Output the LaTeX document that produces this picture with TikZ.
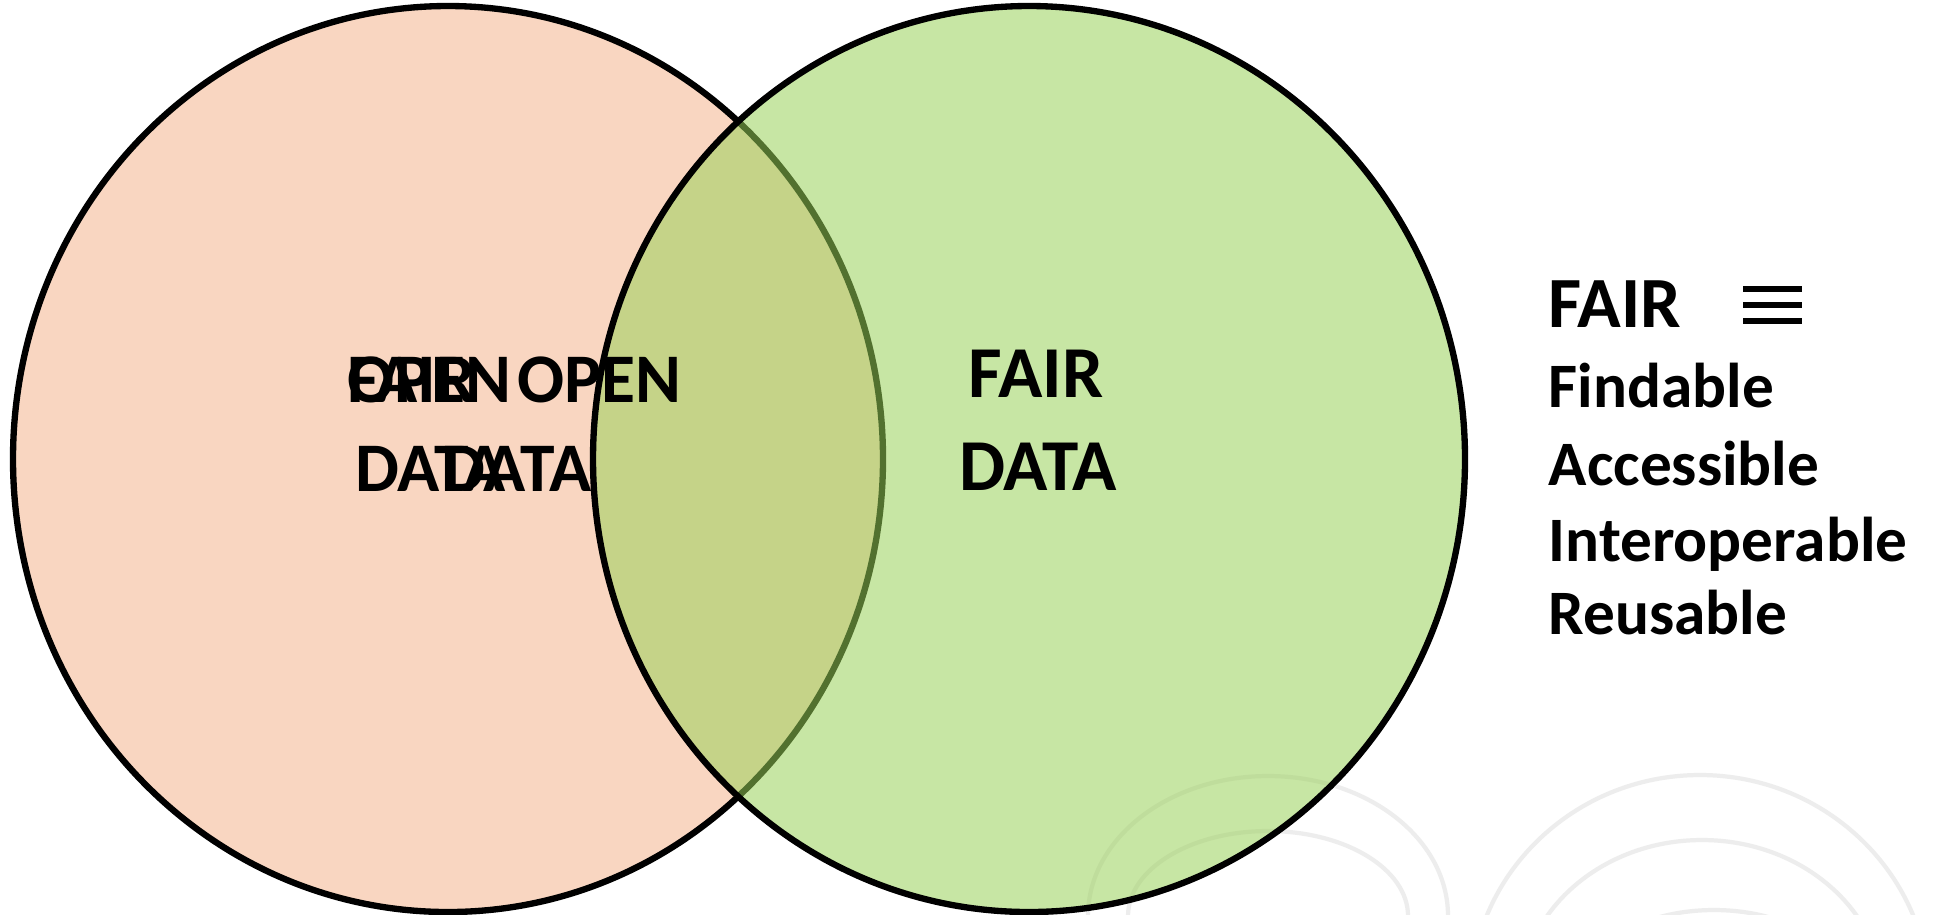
\documentclass[tikz,border=0pt]{standalone}
\usepackage{fontspec}
\setmainfont{Carlito}

\definecolor{peach}{RGB}{249,214,193}
\definecolor{leaf}{RGB}{153,209,88}

\begin{document}
\begin{tikzpicture}[x=0.01cm,y=-0.01cm]
\tikzstyle{ring}=[line width=1.8pt]
\tikzstyle{swirl}=[black!7, line width=1.2pt]
\tikzstyle{word}=[inner sep=0pt, anchor=base west, font=\fontsize{19.8}{24}\selectfont\bfseries]
\tikzstyle{label}=[inner sep=0pt, anchor=base, font=\fontsize{20.8}{25}\selectfont\bfseries]
\tikzstyle{item}=[inner sep=0pt, anchor=base west, font=\fontsize{18}{22}\selectfont\bfseries]
\useasboundingbox (0,0) rectangle (1934,914);
\fill[white] (0,0) rectangle (1934,914);
% faint watermark in the lower right
\begin{scope}
\clip (0,0) rectangle (1934,914);
\draw[swirl] (1088,916) arc[start angle=180, end angle=360, x radius=180, y radius=140];
\draw[swirl] (1128,916) arc[start angle=180, end angle=360, x radius=140, y radius=85];
\draw[swirl] (1470,1000) arc[start angle=180, end angle=360, x radius=230, y radius=225];
\draw[swirl] (1520,1000) arc[start angle=180, end angle=360, x radius=182, y radius=160];
\draw[swirl] (1574,1000) arc[start angle=180, end angle=360, x radius=140, y radius=90];
\end{scope}
\coordinate (opencen) at (448,459);
\coordinate (faircen) at (1029,459);
\filldraw[ring, fill=peach] (opencen) ellipse [x radius=435, y radius=453];
\filldraw[ring, fill=leaf, fill opacity=0.54] (faircen) ellipse [x radius=436, y radius=453]; %see-through, so the overlap darkens
% words in the left circle, set on top of one another
\node[word] (openA) at (347,402) {OPEN};
\node[word] (fairA) at (347,402) {FAIR};
\node[word] (dataA) at (355,491) {DATA};
\node[word] (openB) at (517,402) {OPEN};
\node[word] (dataB) at (441,491) {DATA};
% right circle
\node[label] (fairR) at (1036,397) {FAIR};
\node[label] (dataR) at (1038,490) {DATA};
% key
\node[item, font=\fontsize{20.5}{25}\selectfont\bfseries] (fairkey) at (1548,327) {FAIR};
\foreach \y in {289,305,321}
  \draw[line width=0.055cm] (1743,\y) -- (1802,\y);
\node[item] (findable) at (1548,407) {Findable};
\node[item] (accessible) at (1548,485) {Accessible};
\node[item] (interop) at (1548,561) {Interoperable};
\node[item] (reusable) at (1548,634) {Reusable};
\end{tikzpicture}
\end{document}
